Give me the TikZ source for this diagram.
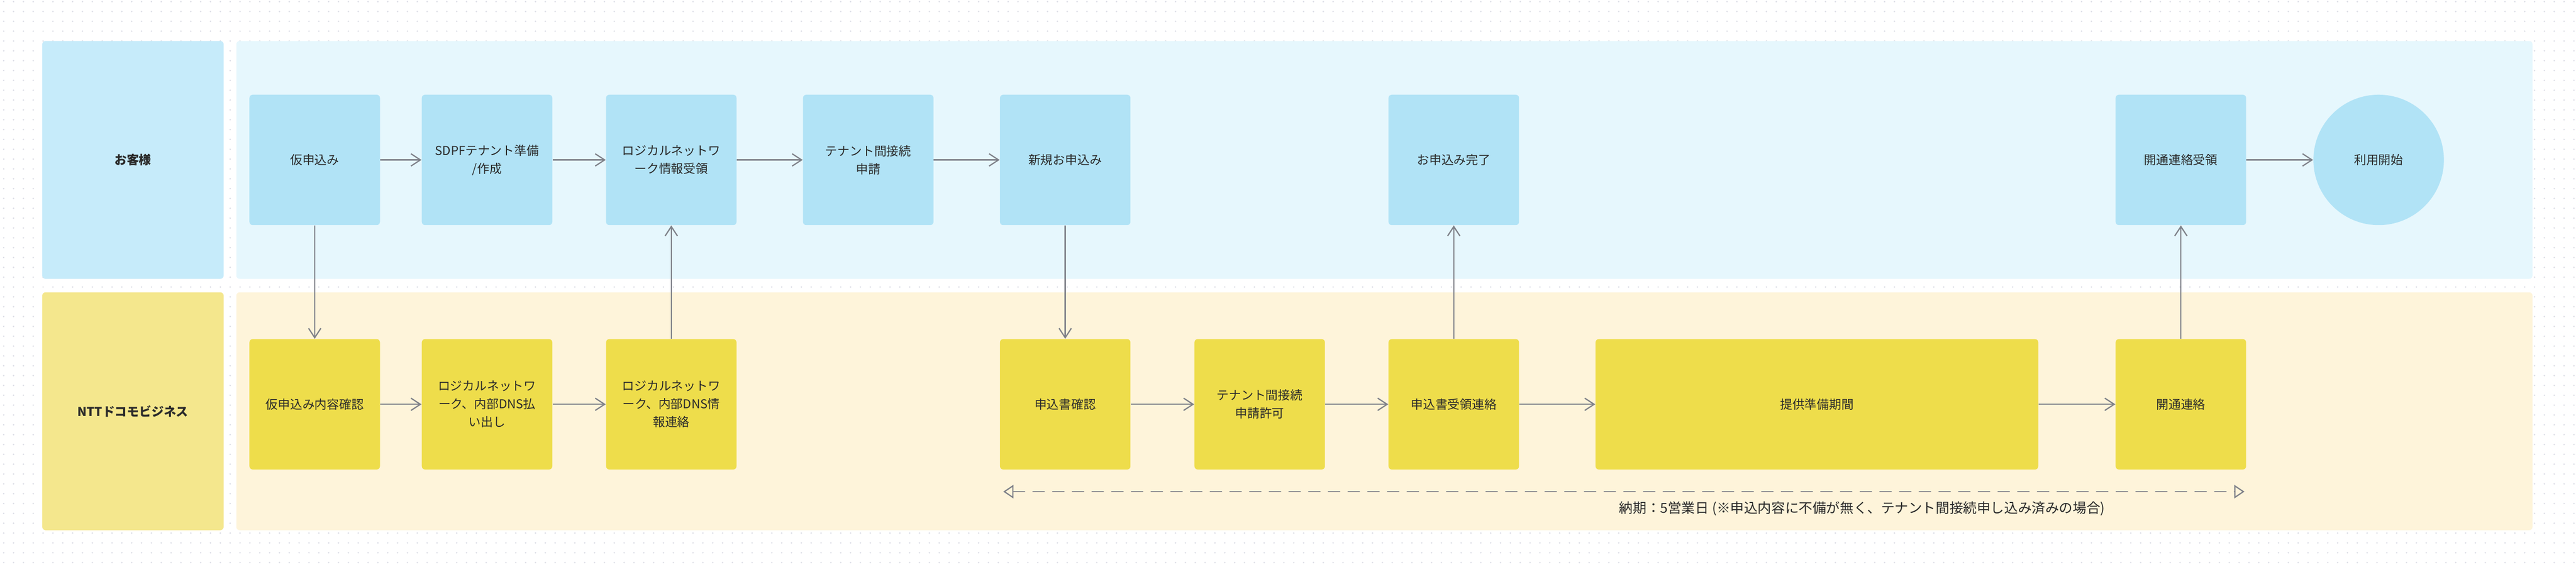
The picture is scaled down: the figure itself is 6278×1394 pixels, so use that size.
\documentclass[tikz,border=0pt]{standalone}
\usepackage{fontspec}
\setmainfont{Noto Sans CJK JP}
\usetikzlibrary{arrows.meta}
\definecolor{dotc}{HTML}{DCDDE6}
\definecolor{custlabel}{HTML}{C6EBFA}
\definecolor{custlane}{HTML}{E6F7FD}
\definecolor{custbox}{HTML}{B1E3F6}
\definecolor{nttlabel}{HTML}{F4E78D}
\definecolor{nttlane}{HTML}{FEF4DA}
\definecolor{nttbox}{HTML}{EEDD4B}
\definecolor{arr}{HTML}{7F8189}
\definecolor{txt}{HTML}{2B2B2B}

\begin{document}
\begin{tikzpicture}[x=0.1mm,y=-0.1mm,
	every node/.style={font=\fontsize{8.5}{12.5}\selectfont,text=txt},
	who/.style={font=\fontsize{8.5}{12.5}\selectfont\bfseries,rounded corners=0.8mm,
		minimum width=44.2mm,minimum height=58mm,inner sep=0pt},
	lane/.style={rounded corners=0.8mm},
	cbox/.style={fill=custbox,rounded corners=0.8mm,minimum width=31.8mm,
		minimum height=31.8mm,inner sep=0pt,align=center},
	nbox/.style={cbox,fill=nttbox},
	flow/.style={draw=arr,line width=0.3mm,-{Straight Barb[length=2.3mm,width=3mm]}},
	span/.style={draw=arr,line width=0.3mm,line cap=round,dash pattern=on 2.8mm off 2mm,
		{Triangle[open,length=2.5mm,width=3.3mm]}-{Triangle[open,length=2.5mm,width=3.3mm]}}]
\useasboundingbox[fill=white] (0,0) rectangle (6278,1394);
\foreach \y in {4,28,...,1394}
	\draw[dotc,line width=0.4mm,line cap=round,dash pattern=on 0pt off 2.4mm] (9,\y) -- (6278,\y);

\fill[lane,custlane] (576,100) rectangle (6172,680);
\fill[lane,nttlane] (576,713) rectangle (6172,1293);
\node[who,fill=custlabel] (okyaku) at (324,390) {お客様};
\node[who,fill=nttlabel] (ntt) at (324,1003) {NTTドコモビジネス};

\node[cbox] (kari) at (767,390) {仮申込み};
\node[cbox] (sdpf) at (1187,390) {SDPFテナント準備\\/作成};
\node[cbox] (lnjuryo) at (1636,390) {ロジカルネットワ\\ーク情報受領};
\node[cbox] (tenant) at (2116,390) {テナント間接続\\申請};
\node[cbox] (shinki) at (2596,390) {新規お申込み};
\node[cbox] (kanryo) at (3543,390) {お申込み完了};
\node[cbox] (kaitsujuryo) at (5315,390) {開通連絡受領};
\node[cbox,circle] (riyo) at (5797,390) {利用開始};

\node[nbox] (karikaku) at (767,986) {仮申込み内容確認};
\node[nbox] (haraidashi) at (1187,986) {ロジカルネットワ\\ーク、内部DNS払\\い出し};
\node[nbox] (lnrenraku) at (1636,986) {ロジカルネットワ\\ーク、内部DNS情\\報連絡};
\node[nbox] (kakunin) at (2596,986) {申込書確認};
\node[nbox] (kyoka) at (3070,986) {テナント間接続\\申請許可};
\node[nbox] (juryo) at (3543,986) {申込書受領連絡};
\node[nbox,minimum width=107.9mm] (junbi) at (4428,986) {提供準備期間};
\node[nbox] (kaitsu) at (5315,986) {開通連絡};

\draw[flow] (kari) -- (sdpf);
\draw[flow] (sdpf) -- (lnjuryo);
\draw[flow] (lnjuryo) -- (tenant);
\draw[flow] (tenant) -- (shinki);
\draw[flow] (kaitsujuryo) -- (riyo);
\draw[flow] (karikaku) -- (haraidashi);
\draw[flow] (haraidashi) -- (lnrenraku);
\draw[flow] (kakunin) -- (kyoka);
\draw[flow] (kyoka) -- (juryo);
\draw[flow] (juryo) -- (junbi);
\draw[flow] (junbi) -- (kaitsu);
\draw[flow] (kari) -- (karikaku);
\draw[flow] (lnrenraku) -- (lnjuryo);
\draw[flow] (shinki) -- (kakunin);
\draw[flow] (juryo) -- (kanryo);
\draw[flow] (kaitsu) -- (kaitsujuryo);

\coordinate (nokiL) at (2445,1199);
\coordinate (nokiR) at (5470,1199);
\draw[span] (nokiL) -- (nokiR);
\node[font=\fontsize{9.5}{12.5}\selectfont] (noki) at (4538,1240) {納期：5営業日 (※申込内容に不備が無く、テナント間接続申し込み済みの場合)};
\end{tikzpicture}
\end{document}
